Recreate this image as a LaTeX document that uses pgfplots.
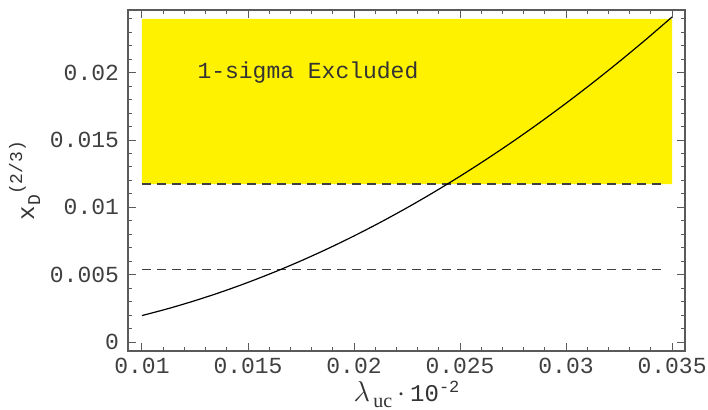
\documentclass[border=0pt]{standalone}
\usepackage{pgfplots}
\pgfplotsset{compat=1.18}
\usepackage{fontspec}
\setmainfont{Liberation Serif}
\setmonofont{Liberation Mono}
\usetikzlibrary{calc}
\definecolor{framegray}{RGB}{90,90,90}
\begin{document}
\begin{tikzpicture}
\begin{axis}[
  name=ax,
  scale only axis,
  width=278.5pt, height=170.5pt,
  xmin=0.00934, xmax=0.03561,
  ymin=-0.00066, ymax=0.02465,
  axis line style={framegray, line width=0.6pt},
  tick style={framegray, line width=0.5pt},
  tick align=inside,
  major tick length=4pt, minor tick length=2pt,
  xtick={0.01,0.015,0.02,0.025,0.03,0.035},
  xticklabels={0.01,0.015,0.02,0.025,0.03,0.035},
  minor xtick={0.011,0.012,0.013,0.014,0.016,0.017,0.018,0.019,0.021,0.022,0.023,0.024,0.026,0.027,0.028,0.029,0.031,0.032,0.033,0.034},
  ytick={0,0.005,0.01,0.015,0.02},
  yticklabels={0,0.005,0.01,0.015,0.02},
  minor ytick={0.001,0.002,0.003,0.004,0.006,0.007,0.008,0.009,0.011,0.012,0.013,0.014,0.016,0.017,0.018,0.019,0.021,0.022,0.023,0.024},
  scaled ticks=false,
  /pgf/number format/assume math mode=true,
  ticklabel style={font=\ttfamily\fontsize{11.5}{14}\selectfont, text=black!75},
  xticklabel style={yshift=0pt},
  yticklabel style={xshift=-1pt},
  xlabel={\fontsize{15}{16}\selectfont$\lambda$\raisebox{-3pt}{\fontsize{10}{11}\selectfont\,uc}\,$\cdot$\,{\ttfamily\fontsize{12}{14}\selectfont 10}\raisebox{4.5pt}{\fontsize{8.5}{9}\selectfont\ttfamily -2}},
  ylabel={\ttfamily\fontsize{12}{14}\selectfont x\raisebox{-3pt}{\fontsize{9}{10}\selectfont D}\raisebox{6pt}{\fontsize{9}{10}\selectfont (2/3)}},
  xlabel style={text=black!80, yshift=1pt, inner sep=1pt},
  ylabel style={text=black!80, yshift=-2pt},
  axis on top,
  clip=false,
]
\addplot[draw=none, fill=yellow] coordinates {(0.01,0.01173) (0.035,0.01173) (0.035,0.0240) (0.01,0.0240) (0.01,0.01173)};
\addplot[black!75, line width=0.9pt, dash pattern=on 4.5pt off 3pt] coordinates {(0.01,0.01173) (0.0347,0.01173)};
\addplot[black!75, line width=0.9pt, dash pattern=on 4.5pt off 3pt] coordinates {(0.01,0.00539) (0.0347,0.00539)};
\addplot[black, line width=0.6pt, smooth] coordinates {
(0.01,0.00197) (0.01125,0.002493) (0.0125,0.003078) (0.01375,0.003724)
(0.015,0.004433) (0.01625,0.005202) (0.0175,0.006033) (0.01875,0.006926)
(0.02,0.00788) (0.02125,0.008896) (0.0225,0.009973) (0.02375,0.011112)
(0.025,0.012313) (0.02625,0.013575) (0.0275,0.014898) (0.02875,0.016283)
(0.03,0.01773) (0.03125,0.019238) (0.0325,0.020808) (0.03375,0.022440)
(0.035,0.024133)};
\node[anchor=west, inner sep=0pt, font=\ttfamily\fontsize{11.5}{14}\selectfont, text=black!80] at (axis cs:0.0126,0.0200) {1-sigma Excluded};
\end{axis}
\pgfresetboundingbox
\path[use as bounding box] ($(ax.south west)+(-64pt,-29pt)$) rectangle ($(ax.north east)+(11.5pt,5pt)$);
\end{tikzpicture}
\end{document}
